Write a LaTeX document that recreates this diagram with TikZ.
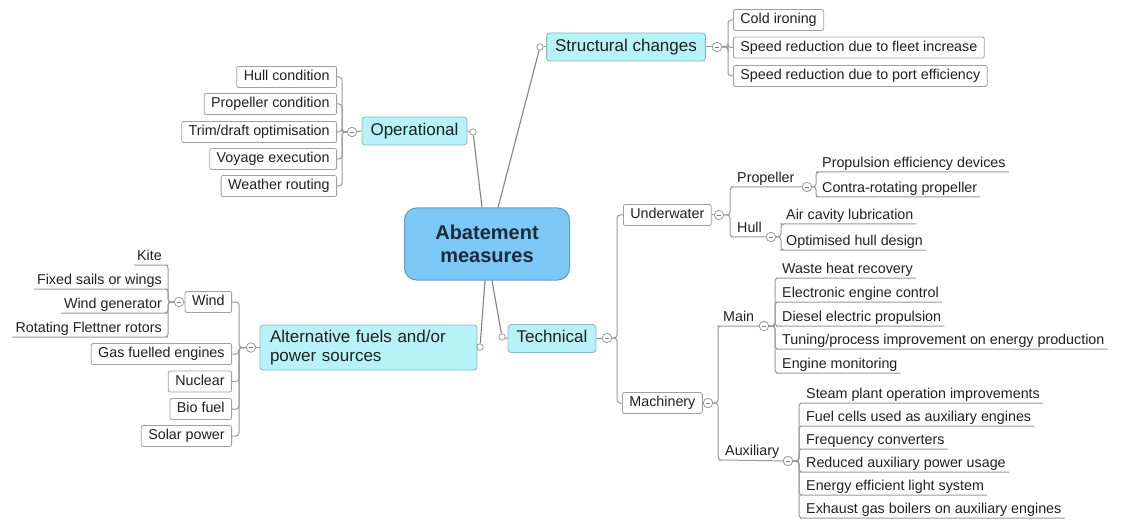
\documentclass[tikz,border=0pt]{standalone}
\usepackage{fontspec}
\setmainfont{Liberation Sans}
\usepackage{tikz}
\usetikzlibrary{positioning}
\definecolor{rootfill}{HTML}{7EC8F5}
\definecolor{rootdraw}{HTML}{5A9ED0}
\definecolor{topicfill}{HTML}{B6F2F6}
\definecolor{topicdraw}{HTML}{86B8BE}
\definecolor{leafdraw}{HTML}{A0A0A0}
\definecolor{linec}{HTML}{9A9A9A}
\definecolor{inkc}{HTML}{202020}
\definecolor{rootink}{HTML}{1A2A3F}

\begin{document}
\begin{tikzpicture}[x=1pt, y=-1pt,
  every node/.style={text=inkc},
  rootbox/.style={draw=rootdraw, line width=1pt, fill=rootfill, rounded corners=12pt, align=center, minimum width=165pt, minimum height=72pt, font=\bfseries\fontsize{20}{23}\selectfont, text=rootink},
  topicbox/.style={draw=topicdraw, line width=0.8pt, fill=topicfill, rounded corners=3pt, inner xsep=8.5pt, inner ysep=0pt, minimum height=28pt, text height=12.2pt, text depth=3.6pt, font=\fontsize{17}{19}\selectfont},
  leafbox/.style={draw=leafdraw, line width=0.8pt, fill=white, rounded corners=2pt, inner xsep=7pt, inner ysep=0pt, minimum height=21pt, text height=10.3pt, text depth=3pt, font=\fontsize{14.3}{16}\selectfont},
  ulabel/.style={inner xsep=3pt, inner ysep=1.5pt, text height=10.3pt, text depth=3pt, font=\fontsize{14.3}{16}\selectfont},
  foldmark/.style={circle, draw=linec, line width=0.8pt, fill=white, minimum size=9.5pt, inner sep=0pt, path picture={\draw[linec!80!black, line width=0.9pt] ([xshift=-2.4pt]path picture bounding box.center) -- ([xshift=2.4pt]path picture bounding box.center);}},
  knob/.style={circle, draw=linec, line width=0.8pt, fill=white, minimum size=6.5pt, inner sep=0pt},
  conn/.style={draw=linec, line width=1pt, rounded corners=3pt},
  rootline/.style={draw=linec!85!black, line width=1.1pt},
]
\useasboundingbox (0,0) rectangle (1123,521);

\node[rootbox] (root) at (487,244) {Abatement\\measures};

% operational
\node[topicbox] (op) at (414.5,131) {Operational};
\node[knob] (opk) at (473,132) {};
\node[foldmark] (opf) at (352,132) {};
\coordinate (opb) at (342,132);
\node[leafbox, anchor=east] (hc) at (337,77) {Hull condition};
\node[leafbox, anchor=east] (pc) at (337,104) {Propeller condition};
\node[leafbox, anchor=east] (td) at (337,132) {Trim/draft optimisation};
\node[leafbox, anchor=east] (ve) at (337,159) {Voyage execution};
\node[leafbox, anchor=east] (wr) at (337,186) {Weather routing};

% structural
\node[topicbox] (sc) at (626,47) {Structural changes};
\node[knob] (sck) at (540,47) {};
\node[foldmark] (scf) at (717,47) {};
\coordinate (scb) at (728,47);
\node[leafbox, anchor=west] (ci) at (733,20) {Cold ironing};
\node[leafbox, anchor=west] (sf) at (733,47.5) {Speed reduction due to fleet increase};
\node[leafbox, anchor=west] (sp) at (733,76) {Speed reduction due to port efficiency};

% alternative
\node[topicbox, text height=, text depth=, text width=197pt, align=left, inner xsep=10pt, minimum height=45pt] (alt) at (368.5,347.5) {Alternative fuels and/or\\power sources};
\node[knob] (ak) at (480,347) {};
\node[foldmark] (af) at (251,347.5) {};
\coordinate (altb) at (239,347.5);
\node[leafbox, anchor=east] (wind) at (232,302) {Wind};
\node[leafbox, anchor=east] (gas) at (232,354) {Gas fuelled engines};
\node[leafbox, anchor=east] (nuc) at (232,381.5) {Nuclear};
\node[leafbox, anchor=east] (bio) at (232,409) {Bio fuel};
\node[leafbox, anchor=east] (sol) at (232,436) {Solar power};
\node[foldmark] (wf) at (179,302) {};
\coordinate (wb) at (168,302);
\node[ulabel, anchor=south east] (kite) at (165,265) {Kite};
\node[ulabel, anchor=south east] (fsw) at (165,289) {Fixed sails or wings};
\node[ulabel, anchor=south east] (wg) at (165,313) {Wind generator};
\node[ulabel, anchor=south east] (rfr) at (165,337) {Rotating Flettner rotors};

% technical
\node[topicbox] (tech) at (552,338.5) {Technical};
\node[knob] (tk) at (502,337) {};
\node[foldmark] (tf) at (607,338) {};
\coordinate (tb) at (617,338);
\node[leafbox, anchor=west] (uw) at (623,215) {Underwater};
\node[leafbox, anchor=west] (mc) at (622,403) {Machinery};

\node[foldmark] (uwf) at (719,215) {};
\coordinate (uwb) at (730,215);
\node[ulabel, anchor=south west] (prl) at (734,187) {Propeller};
\node[foldmark] (pf) at (807,187) {};
\coordinate (pb) at (816,187);
\node[ulabel, anchor=south west] (ped) at (819,172) {Propulsion efficiency devices};
\node[ulabel, anchor=south west] (crp) at (819,197) {Contra-rotating propeller};
\node[ulabel, anchor=south west] (hl) at (734,237) {Hull};
\node[foldmark] (hf) at (771,237) {};
\coordinate (hb) at (781,237);
\node[ulabel, anchor=south west] (acl) at (783,224) {Air cavity lubrication};
\node[ulabel, anchor=south west] (ohd) at (783,250) {Optimised hull design};

\node[foldmark] (mf) at (708,403) {};
\coordinate (mb) at (718,403);
\node[ulabel, anchor=south west] (ml) at (720,326) {Main};
\node[foldmark] (mnf) at (764,326) {};
\coordinate (mnb) at (775,326);
\node[ulabel, anchor=south west] (whr) at (779,278) {Waste heat recovery};
\node[ulabel, anchor=south west] (eec) at (779,302) {Electronic engine control};
\node[ulabel, anchor=south west] (dep) at (779,326) {Diesel electric propulsion};
\node[ulabel, anchor=south west] (tpi) at (779,349) {Tuning/process improvement on energy production};
\node[ulabel, anchor=south west] (emo) at (779,373) {Engine monitoring};
\node[ulabel, anchor=south west] (al) at (722,460) {Auxiliary};
\node[foldmark] (auf) at (788,461) {};
\coordinate (auxb) at (799,461);
\node[ulabel, anchor=south west] (spo) at (803,403) {Steam plant operation improvements};
\node[ulabel, anchor=south west] (fca) at (803,426) {Fuel cells used as auxiliary engines};
\node[ulabel, anchor=south west] (frc) at (803,449) {Frequency converters};
\node[ulabel, anchor=south west] (rap) at (803,472) {Reduced auxiliary power usage};
\node[ulabel, anchor=south west] (eel) at (803,495) {Energy efficient light system};
\node[ulabel, anchor=south west] (egb) at (803,518) {Exhaust gas boilers on auxiliary engines};

\draw[rootline] (opk) -- ([xshift=-5pt]root.north);
\draw[rootline] (sck) -- ([xshift=11pt]root.north);
\draw[rootline] (ak) -- ([xshift=-2pt]root.south);
\draw[rootline] (tk) -- ([xshift=5pt]root.south);

\draw[conn] (op.east) -- (opk);
\draw[conn] (opf) -- (op.west);
\foreach \c in {hc,pc,td,ve,wr} \draw[conn] (opf.west) -- (opb) |- (\c.east);

\draw[conn] (sck) -- (sc.west);
\draw[conn] (sc.east) -- (scf);
\foreach \c in {ci,sf,sp} \draw[conn] (scf.east) -- (scb) |- (\c.west);

\draw[conn] (alt.east) -- (ak);
\draw[conn] (af) -- (alt.west);
\foreach \c in {wind,gas,nuc,bio,sol} \draw[conn] (af.west) -- (altb) |- (\c.east);
\draw[conn] (wf) -- (wind.west);
\foreach \c in {kite,fsw,wg,rfr} \draw[conn] (wf.west) -- (wb) |- (\c.south east) -- (\c.south west);

\draw[conn] (tk) -- (tech.west);
\draw[conn] (tech.east) -- (tf);
\foreach \c in {uw,mc} \draw[conn] (tf.east) -- (tb) |- (\c.west);
\draw[conn] (uw.east) -- (uwf);
\draw[conn] (uwf.east) -- (uwb) |- (prl.south west) -- (pf);
\draw[conn] (uwf.east) -- (uwb) |- (hl.south west) -- (hf);
\foreach \c in {ped,crp} \draw[conn] (pf.east) -- (pb) |- (\c.south west) -- (\c.south east);
\foreach \c in {acl,ohd} \draw[conn] (hf.east) -- (hb) |- (\c.south west) -- (\c.south east);

\draw[conn] (mc.east) -- (mf);
\draw[conn] (mf.east) -- (mb) |- (ml.south west) -- (mnf);
\draw[conn] (mf.east) -- (mb) |- (al.south west) -- (auf);
\foreach \c in {whr,eec,dep,tpi,emo} \draw[conn] (mnf.east) -- (mnb) |- (\c.south west) -- (\c.south east);
\foreach \c in {spo,fca,frc,rap,eel,egb} \draw[conn] (auf.east) -- (auxb) |- (\c.south west) -- (\c.south east);
\end{tikzpicture}
\end{document}
